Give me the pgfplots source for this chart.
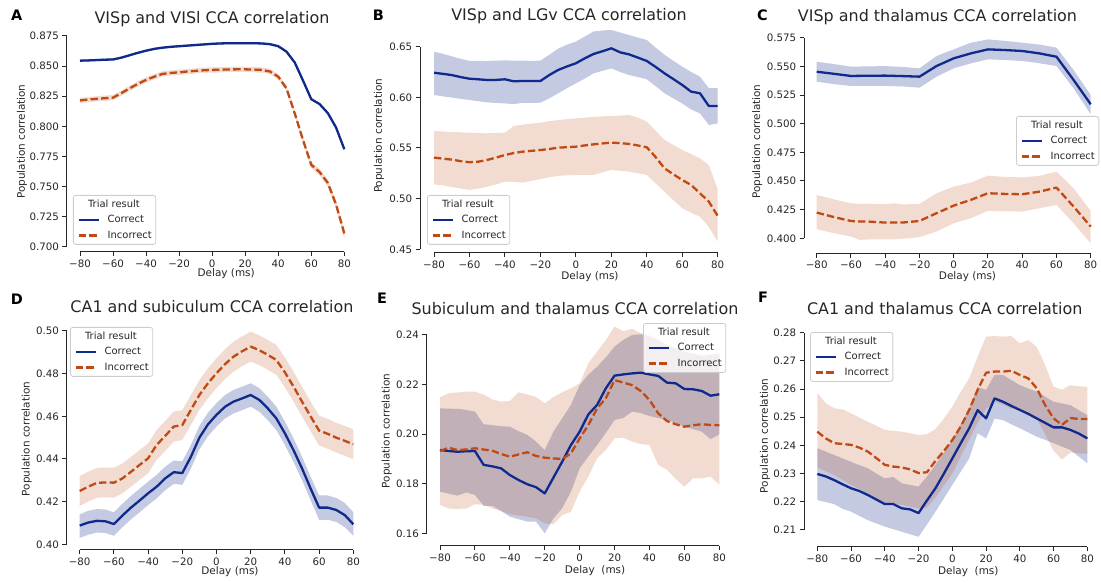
\documentclass[border=0pt]{standalone}
\usepackage{pgfplots}
\pgfplotsset{compat=1.18}
\usepackage{pgfplotstable}
\usepgfplotslibrary{fillbetween}
\usepackage{fontspec}
\setmainfont{DejaVu Sans}

\definecolor{corr}{HTML}{0F2A8A}
\definecolor{incorr}{HTML}{C04A14}
\definecolor{ink}{HTML}{262626}

% ---------------- data: x = delay (ms), m = mean, lo/hi = CI band ----------------
\pgfplotstableread{
x m lo hi
-80 0.8545 0.8536 0.8554
-75 0.8547 0.8538 0.8556
-70 0.8550 0.8541 0.8559
-65 0.8553 0.8544 0.8562
-60 0.8555 0.8546 0.8564
-55 0.8570 0.8561 0.8579
-50 0.8590 0.8581 0.8599
-45 0.8610 0.8601 0.8619
-40 0.8628 0.8619 0.8637
-35 0.8643 0.8634 0.8652
-30 0.8653 0.8644 0.8662
-25 0.8660 0.8651 0.8669
-20 0.8665 0.8656 0.8674
-15 0.8670 0.8661 0.8679
-10 0.8675 0.8666 0.8684
-5 0.8680 0.8671 0.8689
0 0.8685 0.8676 0.8694
5 0.8688 0.8679 0.8697
10 0.8690 0.8681 0.8699
15 0.8690 0.8681 0.8699
20 0.8690 0.8681 0.8699
25 0.8690 0.8681 0.8699
30 0.8688 0.8679 0.8697
35 0.8682 0.8673 0.8691
40 0.8665 0.8656 0.8674
45 0.8620 0.8611 0.8629
50 0.8530 0.8521 0.8539
55 0.8380 0.8371 0.8389
60 0.8225 0.8216 0.8234
65 0.8185 0.8176 0.8194
70 0.8110 0.8101 0.8119
75 0.7990 0.7980 0.8000
80 0.7810 0.7800 0.7820
}\Acorr
\pgfplotstableread{
x m lo hi
-80 0.8215 0.8193 0.8237
-75 0.8222 0.8200 0.8244
-70 0.8228 0.8206 0.8250
-65 0.8233 0.8211 0.8255
-60 0.8238 0.8216 0.8260
-55 0.8275 0.8253 0.8297
-50 0.8315 0.8293 0.8337
-45 0.8352 0.8330 0.8374
-40 0.8385 0.8363 0.8407
-35 0.8412 0.8390 0.8434
-30 0.8435 0.8413 0.8457
-25 0.8443 0.8421 0.8465
-20 0.8448 0.8426 0.8470
-15 0.8455 0.8433 0.8477
-10 0.8460 0.8438 0.8482
-5 0.8465 0.8443 0.8487
0 0.8468 0.8446 0.8490
5 0.8470 0.8448 0.8492
10 0.8472 0.8450 0.8494
15 0.8473 0.8451 0.8495
20 0.8473 0.8451 0.8495
25 0.8471 0.8449 0.8493
30 0.8468 0.8446 0.8490
35 0.8455 0.8433 0.8477
40 0.8412 0.8390 0.8434
45 0.8315 0.8292 0.8338
50 0.8107 0.8083 0.8131
55 0.7886 0.7861 0.7911
60 0.7680 0.7654 0.7706
65 0.7620 0.7593 0.7647
70 0.7530 0.7501 0.7559
75 0.7350 0.7317 0.7383
80 0.7110 0.7070 0.7150
}\Ainc

\pgfplotstableread{
x m lo hi
-80 0.6243 0.6023 0.6450
-75 0.6232 0.6010 0.6430
-70 0.6220 0.5998 0.6405
-65 0.6200 0.5985 0.6380
-60 0.6184 0.5974 0.6360
-55 0.6178 0.5962 0.6360
-50 0.6171 0.5950 0.6358
-45 0.6172 0.5945 0.6362
-40 0.6178 0.5940 0.6365
-35 0.6158 0.5934 0.6362
-30 0.6162 0.5945 0.6362
-25 0.6162 0.5945 0.6360
-20 0.6161 0.5947 0.6362
-15 0.6220 0.5990 0.6420
-10 0.6270 0.6040 0.6480
-5 0.6305 0.6090 0.6520
0 0.6336 0.6138 0.6550
5 0.6385 0.6185 0.6600
10 0.6428 0.6237 0.6650
15 0.6455 0.6262 0.6660
20 0.6484 0.6286 0.6665
25 0.6444 0.6250 0.6640
30 0.6424 0.6220 0.6615
35 0.6392 0.6200 0.6590
40 0.6359 0.6178 0.6566
45 0.6300 0.6110 0.6490
50 0.6237 0.6040 0.6420
55 0.6180 0.5990 0.6360
60 0.6122 0.5940 0.6303
65 0.6056 0.5880 0.6250
70 0.6040 0.5842 0.6204
75 0.5914 0.5727 0.6090
80 0.5914 0.5743 0.6090
}\Bcorr
\pgfplotstableread{
x m lo hi
-80 0.5405 0.5141 0.5668
-75 0.5395 0.5130 0.5663
-70 0.5385 0.5115 0.5658
-65 0.5370 0.5100 0.5655
-60 0.5359 0.5086 0.5651
-55 0.5365 0.5100 0.5648
-50 0.5382 0.5118 0.5645
-45 0.5405 0.5140 0.5648
-40 0.5431 0.5168 0.5651
-35 0.5450 0.5165 0.5717
-30 0.5464 0.5158 0.5730
-25 0.5472 0.5175 0.5740
-20 0.5480 0.5194 0.5750
-15 0.5490 0.5210 0.5765
-10 0.5503 0.5225 0.5775
-5 0.5508 0.5230 0.5785
0 0.5513 0.5234 0.5793
5 0.5525 0.5234 0.5800
10 0.5536 0.5234 0.5808
15 0.5545 0.5260 0.5812
20 0.5553 0.5283 0.5816
25 0.5548 0.5275 0.5820
30 0.5540 0.5266 0.5826
35 0.5525 0.5250 0.5800
40 0.5507 0.5234 0.5760
45 0.5410 0.5150 0.5670
50 0.5299 0.5069 0.5579
55 0.5240 0.4985 0.5530
60 0.5184 0.4905 0.5480
65 0.5135 0.4860 0.5440
70 0.5053 0.4822 0.5398
75 0.4970 0.4720 0.5332
80 0.4829 0.4576 0.5092
}\Binc

\pgfplotstableread{
x m lo hi
-80 0.5453 0.5366 0.5540
-70 0.5435 0.5345 0.5520
-60 0.5416 0.5329 0.5497
-50 0.5418 0.5329 0.5500
-40 0.5419 0.5329 0.5502
-30 0.5415 0.5325 0.5495
-20 0.5410 0.5314 0.5483
-10 0.5503 0.5410 0.5590
0 0.5570 0.5483 0.5648
10 0.5613 0.5526 0.5706
20 0.5648 0.5561 0.5735
30 0.5642 0.5555 0.5722
40 0.5634 0.5547 0.5706
50 0.5613 0.5527 0.5690
60 0.5584 0.5503 0.5663
70 0.5381 0.5308 0.5468
80 0.5169 0.5082 0.5250
}\Ccorr
\pgfplotstableread{
x m lo hi
-80 0.4224 0.4079 0.4378
-70 0.4185 0.4045 0.4340
-60 0.4151 0.4015 0.4305
-55 0.4146 0.3986 0.4300
-50 0.4146 0.3990 0.4302
-40 0.4137 0.3991 0.4297
-35 0.4137 0.3990 0.4305
-30 0.4137 0.3995 0.4295
-20 0.4151 0.4010 0.4300
-10 0.4219 0.4059 0.4393
0 0.4285 0.4131 0.4451
10 0.4335 0.4175 0.4486
20 0.4393 0.4239 0.4547
30 0.4387 0.4235 0.4535
40 0.4384 0.4233 0.4532
50 0.4407 0.4262 0.4544
60 0.4442 0.4291 0.4582
70 0.4277 0.4131 0.4436
80 0.4102 0.3956 0.4239
}\Cinc

\pgfplotstableread{
x m lo hi
-80 0.4088 0.4030 0.4140
-75 0.4102 0.4045 0.4157
-70 0.4110 0.4055 0.4165
-65 0.4108 0.4053 0.4163
-60 0.4095 0.4040 0.4150
-55 0.4135 0.4080 0.4190
-50 0.4172 0.4117 0.4227
-45 0.4205 0.4150 0.4260
-40 0.4239 0.4184 0.4294
-35 0.4270 0.4215 0.4325
-30 0.4309 0.4254 0.4364
-25 0.4338 0.4283 0.4393
-20 0.4334 0.4279 0.4389
-15 0.4410 0.4355 0.4465
-10 0.4500 0.4445 0.4555
-5 0.4562 0.4507 0.4617
0 0.4607 0.4552 0.4662
5 0.4645 0.4590 0.4700
10 0.4669 0.4614 0.4724
15 0.4684 0.4629 0.4739
20 0.4700 0.4645 0.4755
25 0.4677 0.4622 0.4732
30 0.4637 0.4582 0.4692
35 0.4590 0.4535 0.4645
40 0.4520 0.4465 0.4575
45 0.4442 0.4387 0.4497
50 0.4356 0.4301 0.4411
55 0.4262 0.4207 0.4317
60 0.4172 0.4115 0.4229
65 0.4172 0.4115 0.4229
70 0.4161 0.4105 0.4217
75 0.4137 0.4080 0.4194
80 0.4094 0.4040 0.4150
}\Dcorr
\pgfplotstableread{
x m lo hi
-80 0.4250 0.4180 0.4320
-75 0.4270 0.4200 0.4340
-70 0.4288 0.4218 0.4358
-65 0.4290 0.4220 0.4360
-60 0.4289 0.4219 0.4359
-55 0.4309 0.4239 0.4379
-50 0.4340 0.4270 0.4410
-45 0.4372 0.4302 0.4442
-40 0.4403 0.4333 0.4473
-35 0.4466 0.4396 0.4536
-30 0.4508 0.4438 0.4578
-25 0.4552 0.4482 0.4622
-20 0.4559 0.4489 0.4629
-15 0.4630 0.4560 0.4700
-10 0.4700 0.4630 0.4770
-5 0.4755 0.4685 0.4825
0 0.4802 0.4732 0.4872
5 0.4845 0.4775 0.4915
10 0.4880 0.4810 0.4950
15 0.4905 0.4835 0.4975
20 0.4927 0.4857 0.4997
25 0.4910 0.4840 0.4980
30 0.4888 0.4818 0.4958
35 0.4864 0.4794 0.4934
40 0.4806 0.4736 0.4876
45 0.4740 0.4670 0.4810
50 0.4669 0.4599 0.4739
55 0.4600 0.4530 0.4670
60 0.4533 0.4463 0.4603
65 0.4518 0.4448 0.4588
70 0.4500 0.4430 0.4570
75 0.4485 0.4415 0.4555
80 0.4469 0.4399 0.4539
}\Dinc

\pgfplotstableread{
x m lo hi
-80 0.1936 0.1768 0.2104
-75 0.1932 0.1760 0.2103
-70 0.1929 0.1752 0.2102
-65 0.1931 0.1765 0.2098
-60 0.1932 0.1755 0.2091
-55 0.1876 0.1711 0.2040
-50 0.1870 0.1711 0.2036
-45 0.1862 0.1690 0.2032
-40 0.1835 0.1667 0.2030
-35 0.1815 0.1657 0.2012
-30 0.1798 0.1647 0.1997
-25 0.1786 0.1647 0.1970
-20 0.1761 0.1600 0.1936
-15 0.1825 0.1660 0.2010
-10 0.1889 0.1701 0.2064
-5 0.1956 0.1768 0.2118
0 0.2010 0.1862 0.2198
5 0.2080 0.1910 0.2240
10 0.2118 0.1956 0.2272
15 0.2185 0.2005 0.2310
20 0.2236 0.2057 0.2353
25 0.2241 0.2065 0.2380
30 0.2245 0.2091 0.2400
35 0.2248 0.2085 0.2403
40 0.2241 0.2073 0.2393
45 0.2235 0.2065 0.2378
50 0.2208 0.2057 0.2360
55 0.2205 0.2045 0.2345
60 0.2182 0.2030 0.2333
65 0.2181 0.2020 0.2325
70 0.2174 0.2010 0.2313
75 0.2155 0.1980 0.2320
80 0.2161 0.1999 0.2326
}\Ecorr
\pgfplotstableread{
x m lo hi
-80 0.1932 0.1714 0.2149
-75 0.1945 0.1700 0.2165
-70 0.1936 0.1698 0.2168
-65 0.1938 0.1700 0.2172
-60 0.1943 0.1717 0.2171
-55 0.1938 0.1715 0.2160
-50 0.1933 0.1700 0.2140
-45 0.1920 0.1690 0.2131
-40 0.1909 0.1677 0.2134
-35 0.1918 0.1672 0.2169
-30 0.1927 0.1667 0.2160
-25 0.1912 0.1660 0.2150
-20 0.1905 0.1640 0.2124
-15 0.1902 0.1636 0.2150
-10 0.1900 0.1674 0.2169
-5 0.1922 0.1687 0.2185
0 0.1983 0.1768 0.2205
5 0.2037 0.1829 0.2286
10 0.2104 0.1903 0.2333
15 0.2145 0.1936 0.2380
20 0.2218 0.1983 0.2434
25 0.2208 0.1986 0.2415
30 0.2198 0.1970 0.2425
35 0.2174 0.1960 0.2407
40 0.2138 0.1956 0.2400
45 0.2084 0.1876 0.2385
50 0.2053 0.1856 0.2360
55 0.2040 0.1820 0.2345
60 0.2030 0.1788 0.2333
65 0.2036 0.1822 0.2325
70 0.2040 0.1822 0.2320
75 0.2037 0.1829 0.2322
80 0.2036 0.1795 0.2319
}\Einc

\pgfplotstableread{
x m lo hi
-80 0.2299 0.2206 0.2390
-75 0.2290 0.2199 0.2378
-70 0.2277 0.2192 0.2366
-65 0.2262 0.2175 0.2354
-60 0.2248 0.2165 0.2342
-55 0.2238 0.2150 0.2330
-50 0.2224 0.2135 0.2319
-45 0.2208 0.2123 0.2300
-40 0.2192 0.2112 0.2283
-35 0.2192 0.2103 0.2288
-30 0.2177 0.2094 0.2266
-25 0.2173 0.2085 0.2260
-20 0.2160 0.2076 0.2254
-15 0.2205 0.2120 0.2290
-10 0.2248 0.2165 0.2331
-5 0.2300 0.2212 0.2375
0 0.2354 0.2260 0.2420
5 0.2408 0.2307 0.2476
10 0.2461 0.2354 0.2532
15 0.2525 0.2443 0.2608
20 0.2496 0.2425 0.2597
25 0.2567 0.2495 0.2650
30 0.2555 0.2490 0.2650
35 0.2540 0.2475 0.2632
40 0.2526 0.2461 0.2614
45 0.2512 0.2446 0.2602
50 0.2496 0.2431 0.2591
55 0.2480 0.2420 0.2573
60 0.2464 0.2408 0.2555
65 0.2464 0.2396 0.2549
70 0.2455 0.2384 0.2543
75 0.2442 0.2360 0.2525
80 0.2425 0.2337 0.2508
}\Fcorr
\pgfplotstableread{
x m lo hi
-80 0.2449 0.2322 0.2585
-75 0.2425 0.2308 0.2550
-70 0.2408 0.2295 0.2532
-65 0.2405 0.2278 0.2528
-60 0.2402 0.2260 0.2514
-55 0.2392 0.2245 0.2499
-50 0.2378 0.2230 0.2484
-45 0.2355 0.2213 0.2470
-40 0.2331 0.2197 0.2455
-35 0.2325 0.2193 0.2452
-30 0.2322 0.2189 0.2449
-25 0.2315 0.2183 0.2443
-20 0.2302 0.2177 0.2437
-15 0.2305 0.2180 0.2440
-10 0.2345 0.2215 0.2458
-5 0.2380 0.2258 0.2495
0 0.2419 0.2300 0.2538
5 0.2467 0.2360 0.2590
10 0.2526 0.2420 0.2638
15 0.2597 0.2480 0.2715
20 0.2658 0.2530 0.2786
25 0.2662 0.2555 0.2788
30 0.2662 0.2545 0.2786
35 0.2665 0.2530 0.2788
40 0.2650 0.2530 0.2762
45 0.2638 0.2515 0.2774
50 0.2603 0.2495 0.2750
55 0.2543 0.2440 0.2685
60 0.2496 0.2380 0.2608
65 0.2473 0.2350 0.2598
70 0.2497 0.2375 0.2614
75 0.2494 0.2372 0.2610
80 0.2494 0.2370 0.2608
}\Finc

% ---------------- common look of every panel ----------------
\pgfplotsset{
  panel/.style={
    scale only axis, clip=false, no markers,
    xmin=-80, xmax=80,
    axis x line*=bottom, axis y line*=left,
    axis line style={ink, line width=1bp},
    every tick/.style={ink, line width=1bp},
    major tick length=4.3bp,
    tick align=outside,
    xtick={-80,-60,-40,-20,0,20,40,60,80},
    xticklabels={−80,−60,−40,−20,0,20,40,60,80},
    tick label style={font=\fontsize{10.3}{12}\selectfont, text=ink},
    legend cell align=left,
    legend image code/.code={\draw[#1] (0bp,0bp) -- (20bp,0bp);},
    legend style={anchor=north west, draw=black!20, line width=0.8bp,
      rounded corners=2.5bp, fill=white, fill opacity=0.8, text opacity=1,
      inner xsep=4bp, inner ysep=4bp, row sep=5.5bp, column sep=8bp,
      font=\fontsize{10}{12}\selectfont, text=ink,
      nodes={inner sep=0bp, text height=8bp, text depth=2bp}},
  },
  corrline/.style={corr, line width=2.3bp, line join=round},
  incline/.style={incorr, line width=2.3bp, line join=round,
    dash pattern=on 7.4bp off 3.2bp},
}

% correct band + line, then incorrect band + line, with a titled legend
\newcommand\drawpanel[2]{%
  \addlegendimage{empty legend}
  \addlegendentry{\hspace*{-19.6bp}Trial result}
  \addplot[draw=none, name path=cu, forget plot] table[x=x, y=hi] {#1};
  \addplot[draw=none, name path=cl, forget plot] table[x=x, y=lo] {#1};
  \addplot[fill=corr, fill opacity=0.25, draw=none, forget plot] fill between[of=cu and cl];
  \addplot[corrline] table[x=x, y=m] {#1};
  \addlegendentry{Correct}
  \addplot[draw=none, name path=iu, forget plot] table[x=x, y=hi] {#2};
  \addplot[draw=none, name path=il, forget plot] table[x=x, y=lo] {#2};
  \addplot[fill=incorr, fill opacity=0.2, draw=none, forget plot] fill between[of=iu and il];
  \addplot[incline] table[x=x, y=m] {#2};
  \addlegendentry{Incorrect}
}

\begin{document}
\begin{tikzpicture}[x=1bp, y=1bp]

% ---- A ----
\begin{axis}[panel, at={(80bp,336.3bp)}, width=264.3bp, height=210.7bp,
  ymin=0.7, ymax=0.875,
  ytick={0.7,0.725,0.75,0.775,0.8,0.825,0.85,0.875},
  yticklabels={0.700,0.725,0.750,0.775,0.800,0.825,0.850,0.875},
  axis x line shift=5bp, axis y line shift=13.3bp,
  legend style={at={(axis description cs:-0.0265,0.2454)}}]
\drawpanel{\Acorr}{\Ainc}
\end{axis}

% ---- B ----
\begin{axis}[panel, at={(434bp,333.7bp)}, width=283.7bp, height=202.6bp,
  ymin=0.45, ymax=0.65,
  ytick={0.45,0.5,0.55,0.6,0.65},
  yticklabels={0.45,0.50,0.55,0.60,0.65},
  axis x line shift=3.4bp, axis y line shift=14bp,
  legend style={at={(axis description cs:-0.0247,0.268)}}]
\drawpanel{\Bcorr}{\Binc}
\end{axis}

% ---- C ----
\begin{axis}[panel, at={(816.7bp,344.7bp)}, width=274bp, height=200.6bp,
  ymin=0.4, ymax=0.575,
  ytick={0.4,0.425,0.45,0.475,0.5,0.525,0.55,0.575},
  yticklabels={0.400,0.425,0.450,0.475,0.500,0.525,0.550,0.575},
  axis x line shift=15bp, axis y line shift=12.7bp,
  legend style={at={(axis description cs:0.7274,0.6097)}}]
\drawpanel{\Ccorr}{\Cinc}
\end{axis}

% ---- D ----
\begin{axis}[panel, at={(79.7bp,38.7bp)}, width=273.6bp, height=213.3bp,
  ymin=0.4, ymax=0.5,
  ytick={0.4,0.42,0.44,0.46,0.48,0.5},
  yticklabels={0.40,0.42,0.44,0.46,0.48,0.50},
  axis x line shift=5.7bp, axis y line shift=13bp,
  legend style={at={(axis description cs:-0.0355,1.0188)}}]
\drawpanel{\Dcorr}{\Dinc}
\end{axis}

% ---- E ----
\begin{axis}[panel, at={(440bp,49.7bp)}, width=279.3bp, height=198.3bp,
  ymin=0.16, ymax=0.24,
  ytick={0.16,0.18,0.2,0.22,0.24},
  yticklabels={0.16,0.18,0.20,0.22,0.24},
  axis x line shift=12.4bp, axis y line shift=13.3bp,
  legend style={at={(axis description cs:0.7268,1.0605)}}]
\drawpanel{\Ecorr}{\Einc}
\end{axis}

% ---- F ----
\begin{axis}[panel, at={(817.3bp,53bp)}, width=270bp, height=197.3bp,
  ymin=0.21, ymax=0.28,
  ytick={0.21,0.22,0.23,0.24,0.25,0.26,0.27,0.28},
  yticklabels={0.21,0.22,0.23,0.24,0.25,0.26,0.27,0.28},
  axis x line shift=16.7bp, axis y line shift=13.3bp,
  legend style={at={(axis description cs:-0.027,1.0035)}}]
\drawpanel{\Fcorr}{\Finc}
\end{axis}

% ---- titles ----
\begin{scope}[every node/.style={font=\fontsize{16}{19}\selectfont, text=ink, anchor=base, inner sep=0}]
\node at (212,559.7) {VISp and VISl CCA correlation};
\node at (569,562) {VISp and LGv CCA correlation};
\node at (937.5,561.3) {VISp and thalamus CCA correlation};
\node at (212,270.7) {CA1 and subiculum CCA correlation};
\node at (575,268.7) {Subiculum and thalamus CCA correlation};
\node at (944.7,268) {CA1 and thalamus CCA correlation};
\end{scope}

% ---- panel letters ----
\begin{scope}[every node/.style={font=\bfseries\fontsize{14.5}{17}\selectfont, text=black, anchor=base west, inner sep=0}]
\node at (11,562.3) {A};
\node at (372.7,562.3) {B};
\node at (757,562) {C};
\node at (10.7,278) {D};
\node at (377,279) {E};
\node at (758,280.7) {F};
\end{scope}

% ---- axis labels ----
\begin{scope}[every node/.style={font=\fontsize{10.5}{12.5}\selectfont, text=ink, inner sep=0}]
\node[rotate=90] at (22,441.3) {Population correlation};
\node[rotate=90] at (379,447.2) {Population correlation};
\node[rotate=90] at (757.3,441.3) {Population correlation};
\node[rotate=90] at (26.7,144) {Population correlation};
\node[rotate=90] at (386.7,152) {Population correlation};
\node[rotate=90] at (765,147.2) {Population correlation};
\node[anchor=base] at (226.2,306.5) {Delay (ms)};
\node[anchor=base] at (590,303) {Delay (ms)};
\node[anchor=base] at (967.5,303) {Delay (ms)};
\node[anchor=base] at (230,8) {Delay (ms)};
\node[anchor=base] at (595,9) {Delay\ \ (ms)};
\node[anchor=base] at (968.3,8.5) {Delay\ \ (ms)};
\end{scope}

% fixed page frame
\pgfresetboundingbox
\path[use as bounding box] (0,0) rectangle (1101,583);
\end{tikzpicture}
\end{document}
